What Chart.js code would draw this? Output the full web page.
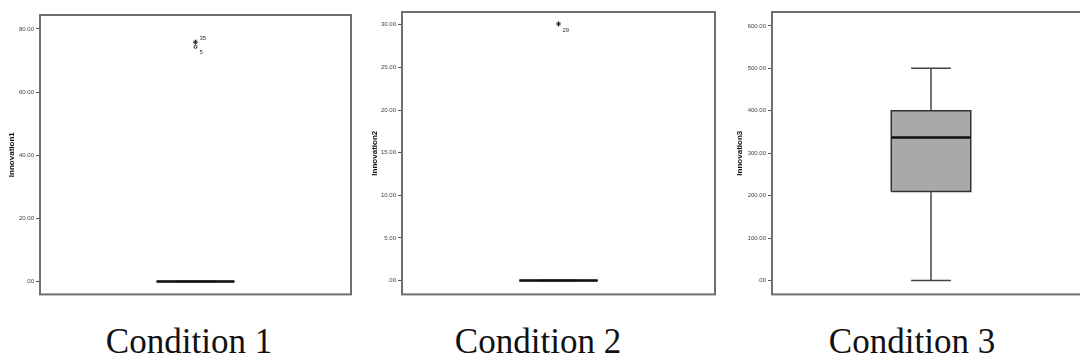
<!DOCTYPE html>
<html>
<head>
<meta charset="utf-8">
<script src="https://cdn.jsdelivr.net/npm/chart.js@4"></script>
<style>
body { margin: 0; width: 1080px; height: 360px; overflow: hidden; background: #fff; position: relative; }
.panel { position: absolute; top: 0; height: 300px; }
.cap { position: absolute; top: 324px; width: 260px; text-align: center; line-height: 1;
       font-family: "Liberation Serif", serif; font-size: 35px; color: #111; }
</style>
</head>
<body>
<div class="panel" style="left:0;width:356px"><canvas id="c1"></canvas></div>
<div class="panel" style="left:356px;width:364px"><canvas id="c2"></canvas></div>
<div class="panel" style="left:720px;width:380px"><canvas id="c3"></canvas></div>
<div class="cap" id="cap1" style="left:59px"></div>
<div class="cap" id="cap2" style="left:408px"></div>
<div class="cap" id="cap3" style="left:782px"></div>
<script>
// chart values
var conditionNames = ['Condition 1', 'Condition 2', 'Condition 3'];
var axisTitles = ['Innovation1', 'Innovation2', 'Innovation3'];
var boxMin = [0, 0, 0];
var boxQ1 = [0, 0, 210];
var boxMedian = [0, 0, 337];
var boxQ3 = [0, 0, 400];
var boxMax = [0, 0, 500];
var outlierValues = [[75.8, 74.3], [30.1], []];
var outlierIds = [['35', '5'], ['29'], []];
var tickValues = [
	[0, 20, 40, 60, 80],
	[0, 5, 10, 15, 20, 25, 30],
	[0, 100, 200, 300, 400, 500, 600]
];
var axisMin = [-4.1, -1.63, -32.8];
var axisMax = [84.4, 31.5, 632.8];

// layout per panel
var yWidth = [40, 46, 52];
var pads = [
	{ top: 15, right: 4, bottom: 5 },
	{ top: 12, right: 3, bottom: 4 },
	{ top: 12, right: 10, bottom: 4 }
];
var titlePad = [7, 14, 15];

var boxLeft = 0.375, boxRight = 0.625, capLeft = 0.4375, capRight = 0.5625;

var framePlugin = {
	id: 'frame',
	afterDraw: function(chart) {
		var a = chart.chartArea, ctx = chart.ctx;
		ctx.save();
		ctx.strokeStyle = '#6f6f6f';
		ctx.lineWidth = 2;
		ctx.strokeRect(a.left, a.top, a.right - a.left, a.bottom - a.top);
		ctx.restore();
	}
};

var outlierLabelPlugin = {
	id: 'outlierLabels',
	afterDatasetsDraw: function(chart) {
		var i = chart.options.plugins.outlierLabels.panel;
		var ctx = chart.ctx;
		ctx.save();
		ctx.font = '6px "Liberation Sans", Arial, sans-serif';
		ctx.fillStyle = '#333';
		ctx.textBaseline = 'middle';
		outlierValues[i].forEach(function(v, k) {
			var x = chart.scales.x.getPixelForValue(0.5);
			var y = chart.scales.y.getPixelForValue(v);
			var dy = outlierValues[i].length > 1 ? (k === 0 ? -4 : 5) : 6;
			ctx.fillText(outlierIds[i][k], x + 4, y + dy);
		});
		ctx.restore();
	}
};

var fmt = function(v) {
	return v === 0 ? '.00' : v.toFixed(2);
};

var makeChart = function(i) {
	var pts = outlierValues[i].map(function(v) { return { x: 0.5, y: v }; });
	var line = function(data, width, colour, ord) {
		return { data: data, borderColor: colour, borderWidth: width, pointRadius: 0,
			fill: false, tension: 0, order: ord };
	};
	var datasets = [
		{
			data: [
				{ x: boxLeft, y: boxQ1[i] }, { x: boxRight, y: boxQ1[i] },
				{ x: boxRight, y: boxQ3[i] }, { x: boxLeft, y: boxQ3[i] },
				{ x: boxLeft, y: boxQ1[i] }
			],
			borderColor: '#333', borderWidth: 1.5, backgroundColor: '#a9a9a9',
			fill: 'shape', pointRadius: 0, tension: 0, order: 5
		},
		line([{ x: 0.5, y: boxQ3[i] }, { x: 0.5, y: boxMax[i] }], 1.5, '#444', 4),
		line([{ x: 0.5, y: boxMin[i] }, { x: 0.5, y: boxQ1[i] }], 1.5, '#444', 4),
		line([{ x: capLeft, y: boxMax[i] }, { x: capRight, y: boxMax[i] }], 1.5, '#444', 3),
		line([{ x: capLeft, y: boxMin[i] }, { x: capRight, y: boxMin[i] }], 1.5, '#444', 3),
		line([{ x: boxLeft, y: boxMedian[i] }, { x: boxRight, y: boxMedian[i] }], 2.5, '#111', 2),
		{
			data: pts, showLine: false, order: 1,
			pointStyle: pts.map(function(p, k) { return k === 0 ? 'star' : 'circle'; }),
			pointRadius: pts.map(function(p, k) { return k === 0 ? 2.5 : 1.5; }),
			pointBorderWidth: 1, borderColor: '#222', backgroundColor: '#fff'
		}
	];

	var config = {
		type: 'line',
		data: { datasets: datasets },
		plugins: [framePlugin, outlierLabelPlugin],
		options: {
			responsive: true,
			maintainAspectRatio: false,
			animation: false,
			layout: { padding: pads[i] },
			plugins: {
				legend: { display: false },
				tooltip: { enabled: false },
				outlierLabels: { panel: i }
			},
			scales: {
				x: { type: 'linear', min: 0, max: 1, display: false },
				y: {
					type: 'linear',
					min: axisMin[i],
					max: axisMax[i],
					afterBuildTicks: function(scale) {
						scale.ticks = tickValues[i].map(function(v) { return { value: v }; });
					},
					afterFit: function(scale) {
						scale.width = yWidth[i];
					},
					ticks: {
						callback: fmt,
						font: { size: 6, family: '"Liberation Sans", Arial, sans-serif' },
						color: '#444',
						padding: 2
					},
					grid: { drawOnChartArea: false, tickLength: 4, color: '#555', lineWidth: 1 },
					border: { display: false },
					title: {
						display: true,
						text: axisTitles[i],
						font: { size: 8, weight: 'bold', family: '"Liberation Sans", Arial, sans-serif' },
						color: '#111',
						padding: { top: titlePad[i], bottom: 0 }
					}
				}
			}
		}
	};
	document.getElementById('cap' + (i + 1)).textContent = conditionNames[i];
	var ctx = document.getElementById('c' + (i + 1)).getContext('2d');
	return new Chart(ctx, config);
};

for (var i = 0; i < 3; i++) {
	makeChart(i);
}
</script>
</body>
</html>
